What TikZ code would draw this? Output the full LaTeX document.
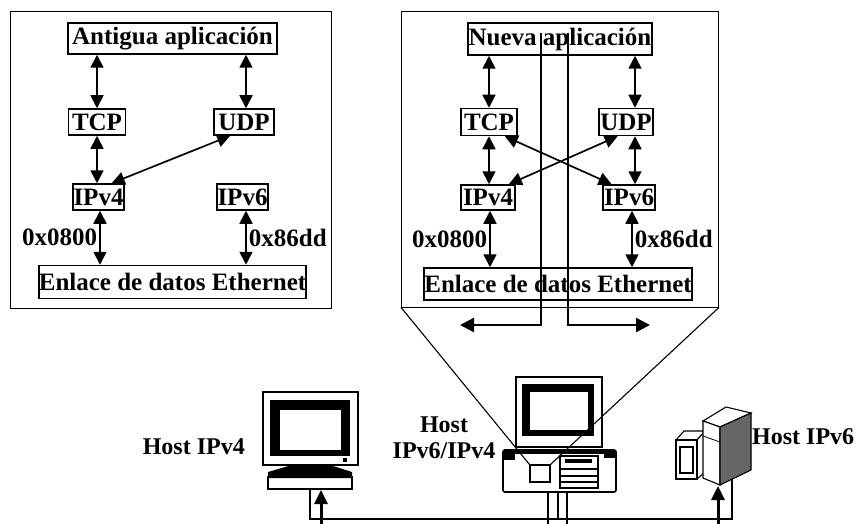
\documentclass[tikz,border=0pt]{standalone}
\usepackage{fontspec}
\setmainfont{Liberation Serif}
\usetikzlibrary{arrows.meta,calc}
\begin{document}
\begin{tikzpicture}[x=1pt,y=-1pt,
  lbl/.style={font=\fontsize{25}{26}\selectfont\bfseries, inner sep=0pt},
  hostlbl/.style={font=\fontsize{24}{26}\selectfont\bfseries, inner sep=0pt},
  layer/.style={lbl, draw, line width=1.5pt, inner sep=0pt},
  panel/.style={draw, line width=0.9pt, inner sep=0pt},
  link/.style={line width=1.7pt, {Triangle[length=13pt,width=13pt]}-{Triangle[length=13pt,width=13pt]}},
  wire/.style={line width=2.4pt, -{Triangle[length=14pt,width=14pt]}},
  fine/.style={line width=1.1pt},
  heavy/.style={line width=3pt, -{Triangle[length=14pt,width=13pt]}}]
\useasboundingbox (0,0) rectangle (859,524);

% ---------- panel frames ----------
\node[panel, minimum width=321pt, minimum height=297pt] (frame1) at (170.5,159.5) {};
\node[panel, minimum width=317pt, minimum height=296pt] (frame2) at (560,159) {};

% ---------- old stack (IPv4 only) ----------
\node[layer, minimum width=209pt, minimum height=31pt] (app1) at (172.5,38.5) {Antigua aplicación};
\node[layer, minimum width=57pt, minimum height=26pt] (tcp1) at (97,122) {TCP};
\node[layer, minimum width=60pt, minimum height=26pt] (udp1) at (244,122) {UDP};
\node[layer, minimum width=51pt, minimum height=26pt] (ip4a) at (98.5,197) {IPv4};
\node[layer, minimum width=51pt, minimum height=26pt] (ip6a) at (242.5,197) {IPv6};
\node[layer, minimum width=266pt, minimum height=33pt] (eth1) at (172.5,282) {Enlace de datos Ethernet};

\coordinate (u1) at ($(udp1.north)+(2,0)$);
\coordinate (u1s) at ($(udp1.south)!0.45!(udp1.south west)$);
\coordinate (v1n) at ($(ip4a.north)!0.5!(ip4a.north east)$);
\coordinate (e4a) at ($(ip4a.south)+(1.5,0)$);
\coordinate (e6a) at ($(ip6a.south)+(3.5,0)$);

\draw[link] (tcp1.north |- app1.south) -- (tcp1.north);
\draw[link] (u1 |- app1.south) -- (u1);
\draw[link] (tcp1.south) -- (tcp1.south |- ip4a.north);
\draw[link] (u1s) -- (v1n);
\draw[link] (e4a) -- (e4a |- eth1.north) node[lbl, anchor=east, pos=0.5, xshift=-2pt] (t0800a) {0x0800};
\draw[link] (e6a) -- (e6a |- eth1.north) node[lbl, anchor=west, pos=0.5, xshift=2pt] (t86dda) {0x86dd};

% ---------- new stack (IPv6/IPv4) ----------
\node[layer, minimum width=184pt, minimum height=32pt] (app2) at (560,39) {Nueva aplicación};
\node[layer, minimum width=56pt, minimum height=27pt] (tcp2) at (489,122) {TCP};
\node[layer, minimum width=54pt, minimum height=27pt] (udp2) at (626,122) {UDP};
\node[layer, minimum width=54pt, minimum height=25pt] (ip4b) at (488,197.5) {IPv4};
\node[layer, minimum width=52pt, minimum height=25pt] (ip6b) at (629,197.5) {IPv6};
\node[layer, minimum width=268pt, minimum height=32pt] (eth2) at (558,284) {Enlace de datos Ethernet};

\coordinate (u2) at ($(udp2.north)+(9,0)$);
\coordinate (u2s) at ($(udp2.south)+(9,0)$);
\coordinate (t2x) at ($(tcp2.south)!0.55!(tcp2.south east)$);
\coordinate (v6x) at ($(ip6b.north)!0.65!(ip6b.north west)$);
\coordinate (u2x) at ($(udp2.south)!0.3!(udp2.south west)$);
\coordinate (v4x) at ($(ip4b.north)!0.75!(ip4b.north east)$);
\coordinate (e4b) at ($(ip4b.south)+(2,0)$);
\coordinate (e6b) at ($(ip6b.south)+(3,0)$);

\draw[link] (tcp2.north |- app2.south) -- (tcp2.north);
\draw[link] (u2 |- app2.south) -- (u2);
\draw[link] (tcp2.south) -- (tcp2.south |- ip4b.north);
\draw[link] (u2s) -- (u2s |- ip6b.north);
\draw[link] (t2x) -- (v6x);
\draw[link] (u2x) -- (v4x);
\draw[link] (e4b) -- (e4b |- eth2.north) node[lbl, anchor=east, pos=0.5, xshift=-2pt] (t0800b) {0x0800};
\draw[link] (e6b) -- (e6b |- eth2.north) node[lbl, anchor=west, pos=0.5, xshift=2pt] (t86ddb) {0x86dd};

% data path from the application down to the wire
\coordinate (pA) at (541,33);
\coordinate (pB) at (568,33);
\coordinate (outA) at (460,325);
\coordinate (outB) at (650,325);
\draw[wire] (pA) |- (outA);
\draw[wire] (pB) |- (outB);

% ---------- host IPv4 : monitor + keyboard ----------
\draw[line width=1.4pt] (263,392) rectangle (358,465);
\fill (270,400) rectangle (350,456);
\fill[white] (280,410) rectangle (341,450);
\fill (343,458) rectangle (347,462);
\fill (292,465) -- (330,465) -- (352,472) -- (352,478) -- (268,478) -- (268,472) -- cycle;
\draw[line width=1.3pt] (268,477) rectangle (352,489);
\node[hostlbl, anchor=east] (h4) at (245,447) {Host IPv4};

% ---------- host IPv6/IPv4 : monitor + desktop unit ----------
\draw[line width=1.4pt] (516,377) rectangle (602,447);
\fill (522,384) rectangle (594,436);
\fill[white] (530,392) rectangle (588,430);
\draw[line width=1.6pt, rounded corners=2pt] (503,450) rectangle (616,492);
\fill (503,450) rectangle (616,454);
\fill (503,450) rectangle (515,460);
\fill (604,450) rectangle (616,458);
\node[draw, line width=1.1pt, minimum width=20pt, minimum height=17pt, inner sep=0pt] (drive) at (540,473.5) {};
\draw[line width=1.2pt] (560,456) rectangle (598,488);
\fill (565,459) rectangle (592,463);
\draw[line width=1.1pt] (560,469) -- (598,469) (560,476) -- (598,476) (560,482) -- (598,482);
\draw[fine] (frame2.south west) -- (drive.north west);
\draw[fine] (frame2.south east) -- (drive.north east);
\node[hostlbl, align=center] (h46) at (444,438) {Host\\IPv6/IPv4};

% ---------- host IPv6 : tower + side unit ----------
\filldraw[fill=white, line width=1.1pt] (676,440) -- (684,431) -- (705,431) -- (697,440) -- cycle;
\filldraw[fill=white, line width=1.1pt] (697,440) -- (705,431) -- (705,472) -- (697,479) -- cycle;
\draw[line width=1.3pt] (676,440) rectangle (697,479);
\draw[line width=2.4pt] (680,447) rectangle (693,473);
\filldraw[fill=white, line width=1.1pt] (703,421) -- (726,407) -- (751,413) -- (720,427) -- cycle;
\filldraw[fill=white, line width=1.1pt] (703,421) -- (720,427) -- (720,485) -- (703,478) -- cycle;
\filldraw[fill=black!60, line width=1.1pt] (720,427) -- (751,413) -- (751,470) -- (720,485) -- cycle;
\draw[line width=0.8pt] (703,436) -- (720,442);
\node[hostlbl, anchor=west] (h6) at (752,437) {Host IPv6};

% ---------- Ethernet segment ----------
\coordinate (bus4) at (310,489);
\coordinate (bus6) at (732,479);
\coordinate (busL) at (310,519);
\coordinate (busR) at (732,519);
\draw[fine] (bus4) -- (busL) -- (busR) -- (bus6);
\coordinate (in4) at (321,524);
\coordinate (tip4) at (321,490);
\coordinate (in6) at (718,524);
\coordinate (tip6) at (718,486);
\draw[heavy] (in4) -- (tip4);
\draw[heavy] (in6) -- (tip6);
\draw[line width=2pt] (548,492) -- (548,524);
\draw[line width=2pt] (567,492) -- (567,524);
\draw[fine] (558,492) -- (558,519);
\end{tikzpicture}
\end{document}
